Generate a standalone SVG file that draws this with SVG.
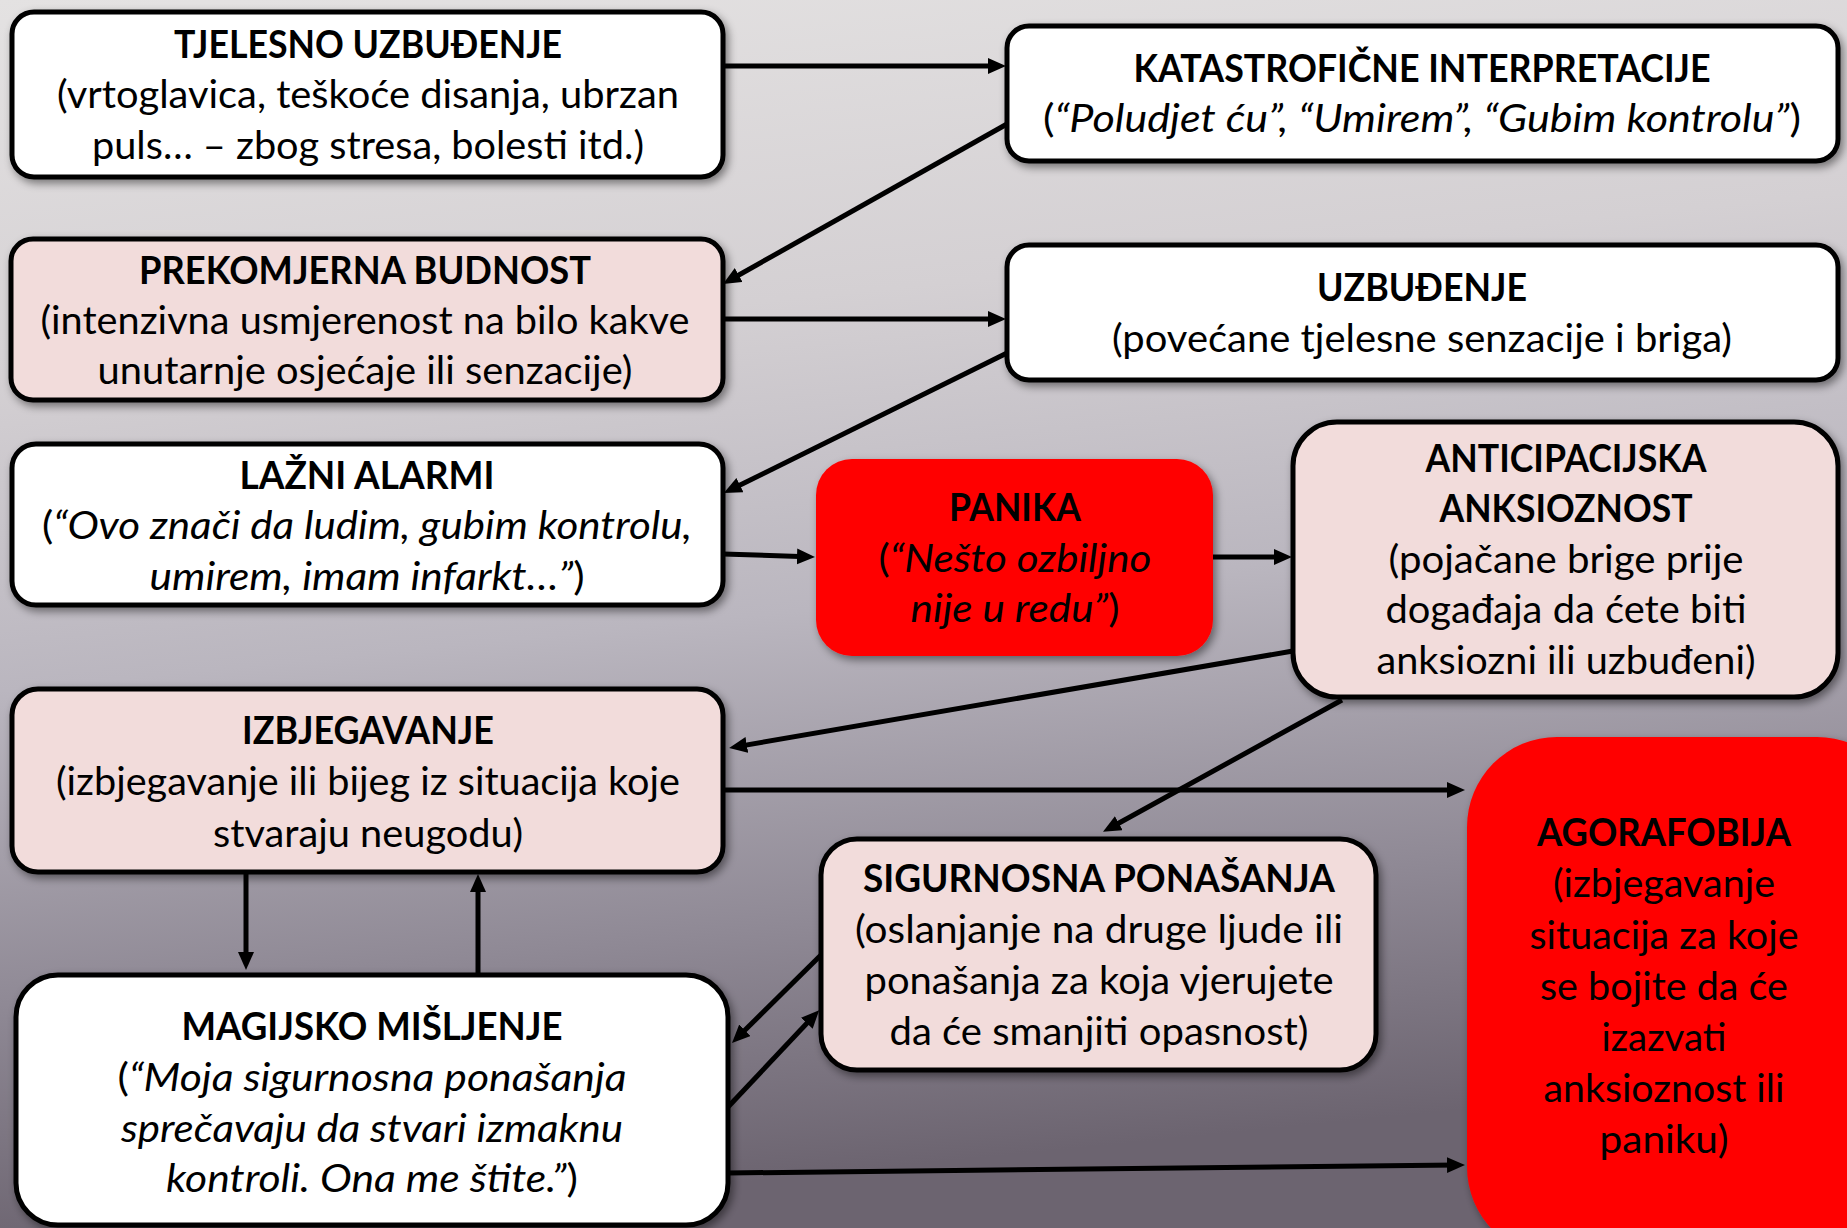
<svg xmlns="http://www.w3.org/2000/svg" width="1847" height="1228" viewBox="0 0 1847 1228">
<defs>
<linearGradient id="bg" x1="0" y1="0" x2="0.15" y2="1">
<stop offset="0" stop-color="#e4e2e2"/>
<stop offset="0.3" stop-color="#d4d0d3"/>
<stop offset="0.55" stop-color="#bab6bf"/>
<stop offset="0.8" stop-color="#8f8995"/>
<stop offset="1" stop-color="#6c6470"/>
</linearGradient>
<filter id="sh" x="-10%" y="-10%" width="125%" height="130%">
<feDropShadow dx="3" dy="4" stdDeviation="4" flood-color="#000" flood-opacity="0.45"/>
</filter>
<marker id="ah" markerUnits="userSpaceOnUse" markerWidth="20" markerHeight="18" refX="10" refY="8" orient="auto">
<path d="M0,0 L18,8 L0,16 Z" fill="#000"/>
</marker>
<style>
.box{stroke:#000;stroke-width:5}
.w{fill:#fff}
.p{fill:#f2dcdb}
.r{fill:#ff0000}
text{font-family:Lato,"Liberation Sans",sans-serif;font-size:39px;fill:#000;text-anchor:middle}
.t{font-weight:bold}
.i{font-style:italic}
.c line{stroke:#000;stroke-width:5;marker-end:url(#ah)}
</style>
</defs>
<rect x="0" y="0" width="1847" height="1228" fill="url(#bg)"/>

<g id="tjelesno">
<rect class="box w" x="12" y="12" width="711" height="165" rx="22" filter="url(#sh)"/>
<text class="t" x="368" y="58" textLength="388" lengthAdjust="spacingAndGlyphs">TJELESNO UZBUĐENJE</text>
<text x="368" y="108" textLength="622" lengthAdjust="spacingAndGlyphs">(vrtoglavica, teškoće disanja, ubrzan</text>
<text x="368" y="159" textLength="552" lengthAdjust="spacingAndGlyphs">puls… – zbog stresa, bolesti itd.)</text>
</g>

<g id="katastroficne">
<rect class="box w" x="1007" y="26" width="831" height="135" rx="22" filter="url(#sh)"/>
<text class="t" x="1422" y="82" textLength="577" lengthAdjust="spacingAndGlyphs">KATASTROFIČNE INTERPRETACIJE</text>
<text x="1422" y="132" textLength="758" lengthAdjust="spacingAndGlyphs">(<tspan class="i">“Poludjet ću”, “Umirem”, “Gubim kontrolu”</tspan>)</text>
</g>

<g id="prekomjerna">
<rect class="box p" x="11" y="239" width="712" height="161" rx="22" filter="url(#sh)"/>
<text class="t" x="365" y="284" textLength="452" lengthAdjust="spacingAndGlyphs">PREKOMJERNA BUDNOST</text>
<text x="365" y="334" textLength="649" lengthAdjust="spacingAndGlyphs">(intenzivna usmjerenost na bilo kakve</text>
<text x="365" y="384" textLength="535" lengthAdjust="spacingAndGlyphs">unutarnje osjećaje ili senzacije)</text>
</g>

<g id="uzbudjenje">
<rect class="box w" x="1007" y="245" width="831" height="135" rx="22" filter="url(#sh)"/>
<text class="t" x="1422" y="301" textLength="210" lengthAdjust="spacingAndGlyphs">UZBUĐENJE</text>
<text x="1422" y="352" textLength="620" lengthAdjust="spacingAndGlyphs">(povećane tjelesne senzacije i briga)</text>
</g>

<g id="lazni">
<rect class="box w" x="12" y="444" width="711" height="161" rx="24" filter="url(#sh)"/>
<text class="t" x="367" y="489" textLength="255" lengthAdjust="spacingAndGlyphs">LAŽNI ALARMI</text>
<text x="367" y="539" textLength="650" lengthAdjust="spacingAndGlyphs">(<tspan class="i">“Ovo znači da ludim, gubim kontrolu,</tspan></text>
<text x="367" y="590" textLength="435" lengthAdjust="spacingAndGlyphs"><tspan class="i">umirem, imam infarkt…”</tspan>)</text>
</g>

<g id="panika">
<rect class="r" x="816" y="459" width="397" height="197" rx="36" filter="url(#sh)"/>
<text class="t" x="1015" y="521" textLength="132" lengthAdjust="spacingAndGlyphs">PANIKA</text>
<text x="1015" y="572" textLength="273" lengthAdjust="spacingAndGlyphs">(<tspan class="i">“Nešto ozbiljno</tspan></text>
<text x="1015" y="622" textLength="209" lengthAdjust="spacingAndGlyphs"><tspan class="i">nije u redu”</tspan>)</text>
</g>

<g id="anticipacijska">
<rect class="box p" x="1293" y="422" width="545" height="275" rx="44" filter="url(#sh)"/>
<text class="t" x="1566" y="472" textLength="281" lengthAdjust="spacingAndGlyphs">ANTICIPACIJSKA</text>
<text class="t" x="1566" y="522" textLength="253" lengthAdjust="spacingAndGlyphs">ANKSIOZNOST</text>
<text x="1566" y="573" textLength="355" lengthAdjust="spacingAndGlyphs">(pojačane brige prije</text>
<text x="1566" y="623" textLength="361" lengthAdjust="spacingAndGlyphs">događaja da ćete biti</text>
<text x="1566" y="674" textLength="379" lengthAdjust="spacingAndGlyphs">anksiozni ili uzbuđeni)</text>
</g>

<g id="izbjegavanje">
<rect class="box p" x="12" y="689" width="711" height="183" rx="26" filter="url(#sh)"/>
<text class="t" x="368" y="744" textLength="252" lengthAdjust="spacingAndGlyphs">IZBJEGAVANJE</text>
<text x="368" y="795" textLength="624" lengthAdjust="spacingAndGlyphs">(izbjegavanje ili bijeg iz situacija koje</text>
<text x="368" y="847" textLength="310" lengthAdjust="spacingAndGlyphs">stvaraju neugodu)</text>
</g>

<g id="agorafobija">
<rect class="r" x="1467" y="737" width="440" height="520" rx="90" filter="url(#sh)"/>
<text class="t" x="1664" y="846" textLength="254" lengthAdjust="spacingAndGlyphs">AGORAFOBIJA</text>
<text x="1664" y="897" textLength="222" lengthAdjust="spacingAndGlyphs">(izbjegavanje</text>
<text x="1664" y="949" textLength="269" lengthAdjust="spacingAndGlyphs">situacija za koje</text>
<text x="1664" y="1000" textLength="248" lengthAdjust="spacingAndGlyphs">se bojite da će</text>
<text x="1664" y="1051" textLength="125" lengthAdjust="spacingAndGlyphs">izazvati</text>
<text x="1664" y="1102" textLength="241" lengthAdjust="spacingAndGlyphs">anksioznost ili</text>
<text x="1664" y="1153" textLength="129" lengthAdjust="spacingAndGlyphs">paniku)</text>
</g>

<g id="sigurnosna">
<rect class="box p" x="821" y="839" width="555" height="231" rx="36" filter="url(#sh)"/>
<text class="t" x="1099" y="892" textLength="472" lengthAdjust="spacingAndGlyphs">SIGURNOSNA PONAŠANJA</text>
<text x="1099" y="943" textLength="488" lengthAdjust="spacingAndGlyphs">(oslanjanje na druge ljude ili</text>
<text x="1099" y="994" textLength="469" lengthAdjust="spacingAndGlyphs">ponašanja za koja vjerujete</text>
<text x="1099" y="1045" textLength="419" lengthAdjust="spacingAndGlyphs">da će smanjiti opasnost)</text>
</g>

<g id="magijsko">
<rect class="box w" x="16" y="975" width="712" height="250" rx="42" filter="url(#sh)"/>
<text class="t" x="372" y="1040" textLength="381" lengthAdjust="spacingAndGlyphs">MAGIJSKO MIŠLJENJE</text>
<text x="372" y="1091" textLength="509" lengthAdjust="spacingAndGlyphs">(<tspan class="i">“Moja sigurnosna ponašanja</tspan></text>
<text x="372" y="1142" textLength="502" lengthAdjust="spacingAndGlyphs"><tspan class="i">sprečavaju da stvari izmaknu</tspan></text>
<text x="372" y="1192" textLength="412" lengthAdjust="spacingAndGlyphs"><tspan class="i">kontroli. Ona me štite.”</tspan>)</text>
</g>

<g id="connectors" class="c">
<line x1="723" y1="66" x2="998" y2="66"/>
<line x1="1007" y1="124" x2="730" y2="280"/>
<line x1="723" y1="319" x2="998" y2="319"/>
<line x1="1007" y1="353" x2="731" y2="489.5"/>
<line x1="723" y1="554" x2="807" y2="556.7"/>
<line x1="1213" y1="557" x2="1284" y2="557"/>
<line x1="1293" y1="651" x2="737" y2="746.6"/>
<line x1="1342" y1="700" x2="1110" y2="828"/>
<line x1="723" y1="790" x2="1457" y2="790"/>
<line x1="246" y1="872" x2="246" y2="962"/>
<line x1="478" y1="975" x2="478" y2="882"/>
<line x1="821" y1="955" x2="737.7" y2="1037.3"/>
<line x1="728" y1="1107" x2="813.7" y2="1016"/>
<line x1="728" y1="1173" x2="1457" y2="1165"/>
</g>
</svg>
